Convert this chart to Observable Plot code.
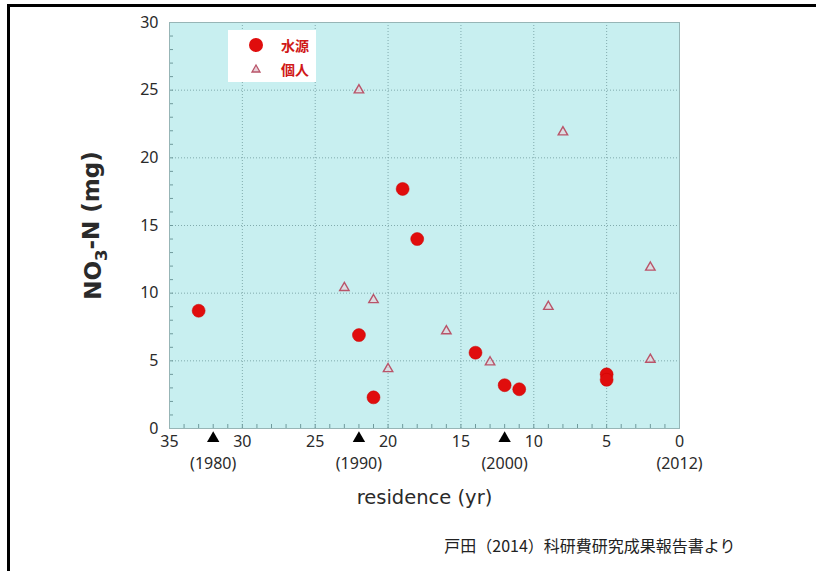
<!DOCTYPE html>
<html>
<head>
<meta charset="utf-8">
<script src="https://cdn.jsdelivr.net/npm/d3@7"></script>
<script src="https://cdn.jsdelivr.net/npm/@observablehq/plot@0.6"></script>
<style>
  html, body { margin: 0; padding: 0; background: #fff; }
  #wrap { position: relative; width: 816px; height: 571px; overflow: hidden; font-family: "Noto Sans", sans-serif; }
  #topline { position: absolute; left: 7px; top: 4px; width: 809px; height: 3px; background: #000; }
  #leftline { position: absolute; left: 7px; top: 4px; width: 3px; height: 567px; background: #000; }
  #legend { position: absolute; left: 228px; top: 30px; width: 88px; height: 52px; background: #fff; }
  #legend .row { position: absolute; left: 0; width: 88px; height: 20px; }
  #legend .lab { position: absolute; left: 53px; top: 0; font-family: "Noto Sans CJK JP", sans-serif; font-weight: bold; font-size: 14px; line-height: 20px; color: #d01818; }
  #legend svg { position: absolute; left: 18px; top: 0; }
</style>
</head>
<body>
<div id="wrap"></div>
<script>
// ---- data ----
const waterYears   = [33, 22, 21, 19, 18, 14, 12, 11, 5, 5];
const waterValues  = [8.7, 6.9, 2.3, 17.7, 14.0, 5.6, 3.2, 2.9, 4.0, 3.6];
const personYears  = [22, 23, 21, 20, 16, 13, 9, 8, 2, 2];
const personValues = [25.0, 10.4, 9.5, 4.4, 7.2, 4.9, 9.0, 21.9, 11.9, 5.1];
const yearPositions = [32, 22, 12, 0];
const yearLabels = ["(1980)", "(1990)", "(2000)", "(2012)"];
const arrowPositions = [32, 22, 12];
const xTicks = [35, 30, 25, 20, 15, 10, 5, 0];
const yTicks = [0, 5, 10, 15, 20, 25, 30];
const seriesNames = ["水源", "個人"];
const xLabel = "residence (yr)";
const yLabel = "NO3-N (mg)";
const caption = "戸田（2014）科研費研究成果報告書より";

const water = waterYears.map((x, i) => ({x, y: waterValues[i]}));
const person = personYears.map((x, i) => ({x, y: personValues[i]}));
const years = yearPositions.map((x, i) => ({x, label: yearLabels[i]}));

const RED = "#e00d0d";
const TRI = "#b95469";

const chart = Plot.plot({
  width: 816,
  height: 571,
  marginLeft: 169,
  marginRight: 137,
  marginTop: 22,
  marginBottom: 143,
  style: {background: "transparent", fontFamily: "'Noto Sans', sans-serif", color: "#333"},
  x: {domain: [35, 0], label: null},
  y: {domain: [0, 30], label: null},
  marks: [
    Plot.frame({fill: "#c8eff0", stroke: null}),
    Plot.gridX({ticks: xTicks, stroke: "#6f9a9c", strokeOpacity: 0.8, strokeDasharray: "1,2"}),
    Plot.gridY({ticks: yTicks, stroke: "#6f9a9c", strokeOpacity: 0.8, strokeDasharray: "1,2"}),
    Plot.axisX({ticks: d3.range(0, 36), tickSize: -4, text: null, stroke: "#6f9a9c"}),
    Plot.axisY({ticks: d3.range(0, 31), tickSize: -4, text: null, stroke: "#6f9a9c"}),
    Plot.axisX({ticks: xTicks, tickSize: 0, tickPadding: 7, fontSize: 16, fill: "#2a2a2a"}),
    Plot.axisY({ticks: yTicks, tickSize: 0, tickPadding: 11, fontSize: 16, fill: "#2a2a2a"}),
    Plot.frame({stroke: "#97b5b6", strokeWidth: 1}),
    Plot.dot(person, {x: "x", y: "y", symbol: "triangle", r: 3.5, stroke: TRI, strokeWidth: 1.4, fill: "#e8d0d8", fillOpacity: 0.6}),
    Plot.dot(water, {x: "x", y: "y", r: 6.5, fill: RED, stroke: "#c00", strokeWidth: 0.5}),
    Plot.dot(arrowPositions, {x: d => d, frameAnchor: "bottom", dy: 10, symbol: "triangle", r: 4.6, fill: "#000", stroke: null}),
    Plot.text(years, {x: "x", text: "label", frameAnchor: "bottom", dy: 40, fontSize: 16, fill: "#2a2a2a"}),
    Plot.text([xLabel], {frameAnchor: "bottom", dy: 75, textAnchor: "middle", fontSize: 19.5, fill: "#2a2a2a", fontFamily: "'DejaVu Sans', sans-serif"}),
    Plot.text([yLabel], {frameAnchor: "left", dx: -76, rotate: -90, textAnchor: "middle", fontSize: 23, fontWeight: "bold", fill: "#2a2a2a", fontFamily: "'DejaVu Sans', sans-serif"}),
    Plot.text([caption], {frameAnchor: "bottom-right", dx: 56, dy: 123, textAnchor: "end", fontSize: 16, fill: "#222", fontFamily: "'Noto Sans CJK JP', sans-serif"})
  ]
});

// subscript in the y label
d3.select(chart).selectAll("text").each(function() {
  const t = d3.select(this);
  if (t.text() === yLabel) {
    t.text(null);
    t.append("tspan").text("NO");
    t.append("tspan").attr("dy", "0.35em").attr("font-size", "0.72em").text("3");
    t.append("tspan").attr("dy", "-0.35em").text("-N (mg)");
  }
});

const wrap = document.getElementById("wrap");
wrap.appendChild(chart);
chart.style.position = "absolute";
chart.style.left = "0";
chart.style.top = "0";

const topLine = document.createElement("div"); topLine.id = "topline"; wrap.appendChild(topLine);
const leftLine = document.createElement("div"); leftLine.id = "leftline"; wrap.appendChild(leftLine);

// legend
const legendBox = document.createElement("div");
legendBox.id = "legend";
legendBox.innerHTML = `
  <div class="row" style="top:5px"><svg width="20" height="20"><circle cx="10" cy="10" r="7" fill="${RED}"/></svg><span class="lab">${seriesNames[0]}</span></div>
  <div class="row" style="top:29px"><svg width="20" height="20"><path d="M10,6 L14,13 L6,13 Z" fill="#e8d0d8" stroke="${TRI}" stroke-width="1.3"/></svg><span class="lab">${seriesNames[1]}</span></div>`;
wrap.appendChild(legendBox);
</script>
</body>
</html>
